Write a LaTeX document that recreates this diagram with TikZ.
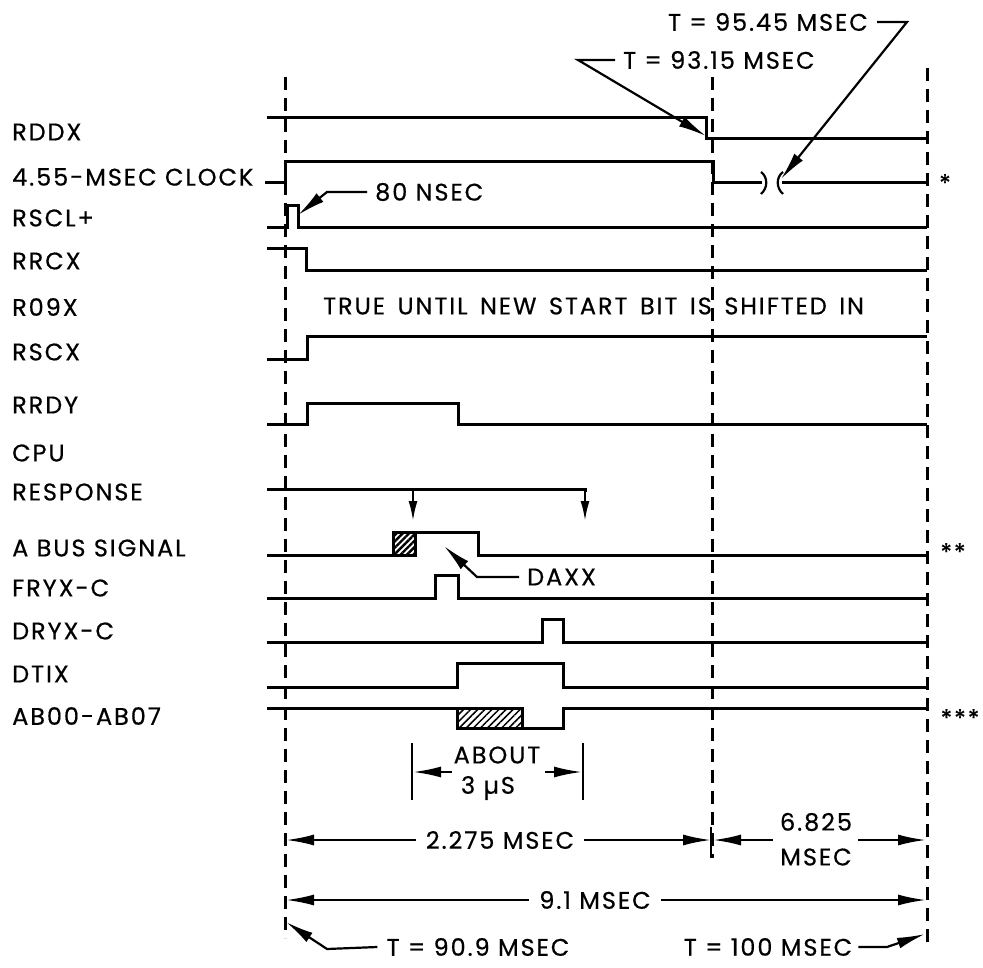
\documentclass[tikz,border=0pt]{standalone}
\usepackage{fontspec}
\setmainfont{Poppins}[LetterSpace=8,FakeBold=0.5]
\usetikzlibrary{arrows.meta,patterns.meta}
\begin{document}
\begin{tikzpicture}[x=1pt,y=-1pt,
  sig/.style={line width=3pt,line join=miter,line cap=butt},
  guide/.style={line width=3pt,dash pattern=on 13pt off 8pt},
  lab/.style={anchor=west,inner sep=0pt,font=\fontsize{24}{28}\selectfont},
  txt/.style={inner sep=0pt,font=\fontsize{24}{28}\selectfont},
  ptr/.style={line width=2.2pt,-{Latex[length=28pt,width=11pt]}},
  dim/.style={line width=2.2pt,-{Latex[length=28pt,width=11pt]}},
  cpu/.style={line width=2.2pt,-{Latex[length=20pt,width=9pt]}},
  tick/.style={line width=2.4pt}]
\useasboundingbox (0,0) rectangle (983,968);
% guides
\draw[guide] (285,77) -- (285,938);
\draw[guide] (712,77) -- (712,858);
\draw[guide] (927,68) -- (927,943);
% labels
\node[lab] (lRDDX) at (12,132) {RDDX};
\node[lab] (lCLK) at (12,177) {4.55-MSEC CLOCK};
\node[lab] (lRSCL) at (12,218) {RSCL+};
\node[lab] (lRRCX) at (12,261) {RRCX};
\node[lab] (lR09X) at (12,307) {R09X};
\node[lab] (lRSCX) at (12,352) {RSCX};
\node[lab] (lRRDY) at (12,405) {RRDY};
\node[lab] (lCPU) at (12,453) {CPU};
\node[lab] (lRESP) at (12,492) {RESPONSE};
\node[lab] (lABUS) at (12,548) {A BUS SIGNAL};
\node[lab] (lFRYX) at (12,588) {FRYX-C};
\node[lab] (lDRYX) at (12,631) {DRYX-C};
\node[lab] (lDTIX) at (12,674) {DTIX};
\node[lab] (lAB) at (12,716) {AB00-AB07};
% signals
\draw[sig] (267,118) -- (706,118) -- (706,139) -- (927,139);
\draw[sig] (265,183) -- (285,183) -- (285,162) -- (713,162) -- (713,183) -- (762,183);
\draw[sig] (782,183) -- (927,183);
\draw[line width=2.2pt] (761,172) .. controls (768,177) and (768,188) .. (761,194);
\draw[line width=2.2pt] (783,172) .. controls (776,177) and (776,188) .. (783,194);
\draw[sig] (267,228) -- (287,228) -- (287,206) -- (298,206) -- (298,228) -- (927,228);
\draw[sig] (267,249) -- (306,249) -- (306,271) -- (927,271);
\draw[sig] (267,360) -- (307,360) -- (307,337) -- (927,337);
\draw[sig] (267,424) -- (307,424) -- (307,403) -- (458,403) -- (458,424) -- (927,424);
\draw[sig] (267,489) -- (585,489) -- (585,492);
\draw[cpu] (585,488) -- (585,521);
\draw[cpu] (413,489) -- (413,521);
\draw[sig,pattern={Lines[angle=45,distance=4.5pt,line width=2.4pt]}] (393,532) rectangle (415,555);
\draw[sig] (267,555) -- (393,555) -- (393,532) -- (478,532) -- (478,555) -- (927,555);
\draw[sig] (267,598) -- (435,598) -- (435,575) -- (458,575) -- (458,598) -- (927,598);
\draw[sig] (267,642) -- (542,642) -- (542,619) -- (563,619) -- (563,642) -- (927,642);
\draw[sig] (267,687) -- (457,687) -- (457,663) -- (563,663) -- (563,687) -- (927,687);
\draw[sig,pattern={Lines[angle=45,distance=5pt,line width=1.5pt]}] (457,708) rectangle (522,728);
\draw[sig] (267,708) -- (457,708) -- (457,728) -- (563,728) -- (563,708) -- (927,708);
% annotations
\node[txt,anchor=west] (n80) at (375,192) {80 NSEC};
\draw[ptr] (n80.west) ++(-8,0) -- (327,192) -- (298,215);
\node[txt,anchor=west] (ntrue) at (323,306) {\spaceskip=12.5pt\relax TRUE UNTIL NEW START BIT IS SHIFTED IN};
\node[txt,anchor=west] (ndaxx) at (527,577) {DAXX};
\draw[ptr] (ndaxx.west) ++(-8,0) -- (477,577) -- (444,546);
\node[txt,anchor=west] (n9315) at (623,60) {T = 93.15 MSEC};
\draw[ptr] (n9315.west) ++(-8,0) -- (578,60) -- (706,136);
\node[txt,anchor=east] (n9545) at (868,22) {T = 95.45 MSEC};
\draw[ptr] (n9545.east) ++(9,0) -- (907,22) -- (781,179);
\node[txt] (star1) at (945,183) {*};
\node[txt] (star2) at (953,552) {**};
\node[txt] (star3) at (960,718) {***};
% ABOUT 3 us
\node[txt] (nabout) at (497,755) {ABOUT};
\node[txt] (n3us) at (488,788) {3 µS};
\draw[tick] (412,743) -- (412,800);
\draw[tick] (583,743) -- (583,800);
\draw[dim] (452,772) -- (413,772);
\draw[dim] (545,772) -- (582,772);
% 2.275
\node[txt] (n2275) at (500,840) {2.275 MSEC};
\draw[dim] (n2275.west) ++(-10,0) -- (286,840);
\draw[dim] (n2275.east) ++(10,0) -- (711,840);
\draw[tick] (711,827) -- (711,858);
% 6.825
\node[txt] (n6825) at (816,822) {6.825};
\node[txt] (nmsec) at (816,857) {MSEC};
\draw[dim] (773,840) -- (713,840);
\draw[dim] (858,840) -- (926,840);
% 9.1
\node[txt] (n91) at (595,900) {9.1 MSEC};
\draw[dim] (n91.west) ++(-10,0) -- (286,900);
\draw[dim] (n91.east) ++(10,0) -- (926,900);
% bottom T
\node[txt] (n909) at (478,947) {T = 90.9 MSEC};
\draw[ptr] (n909.west) ++(-9,0) -- (327,949) -- (286,922);
\node[txt] (n100) at (768,947) {T = 100 MSEC};
\draw[ptr] (n100.east) ++(6,0) -- (887,947) -- (925,934);
\end{tikzpicture}
\end{document}
